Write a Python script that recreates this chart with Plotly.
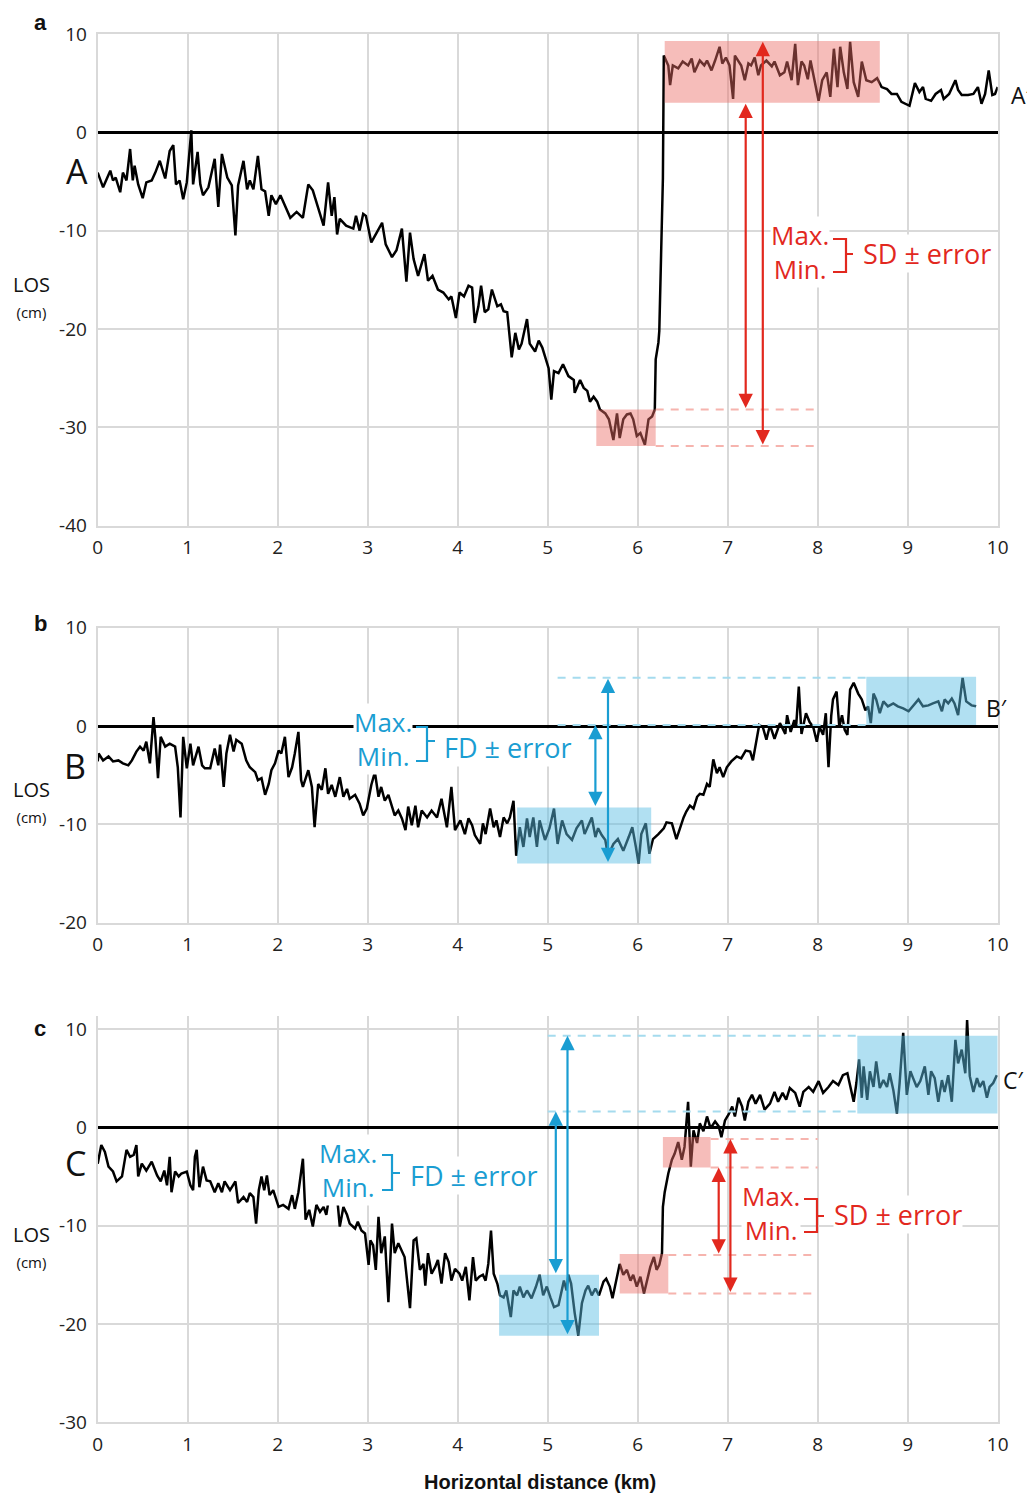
import plotly.graph_objects as go

# ---------------- data ----------------
a_x = [0.00,0.06,0.14,0.17,0.20,0.25,0.28,0.32,0.36,0.39,0.41,0.45,0.50,0.54,0.60,0.64,0.69,0.75,0.80,0.84,
       0.87,0.91,0.95,0.99,1.04,1.06,1.11,1.14,1.17,1.23,1.30,1.34,1.38,1.44,1.49,1.53,1.56,1.62,1.66,1.69,
       1.73,1.78,1.82,1.86,1.90,1.93,1.98,2.03,2.14,2.21,2.28,2.34,2.39,2.45,2.51,2.56,2.60,2.63,2.66,2.69,
       2.76,2.84,2.87,2.91,2.95,2.98,3.04,3.10,3.16,3.20,3.27,3.32,3.38,3.43,3.47,3.51,3.56,3.63,3.67,3.72,
       3.78,3.84,3.90,3.93,3.98,4.02,4.07,4.12,4.16,4.19,4.23,4.26,4.30,4.34,4.38,4.44,4.48,4.51,4.55,4.60,
       4.64,4.68,4.71,4.77,4.80,4.86,4.90,4.94,5.01,5.04,5.07,5.12,5.17,5.23,5.29,5.30,5.36,5.40,5.44,5.47,
       5.51,5.55,5.58,5.64,5.68,5.73,5.77,5.80,5.84,5.88,5.92,5.95,5.99,6.03,6.08,6.12,6.16,6.19,6.20,6.23,
       6.24,6.28,6.29,6.34,6.36,6.39,6.45,6.50,6.56,6.60,6.63,6.69,6.74,6.77,6.82,6.86,6.91,6.94,6.98,7.02,
       7.06,7.08,7.12,7.15,7.19,7.23,7.26,7.30,7.34,7.37,7.43,7.49,7.52,7.58,7.63,7.66,7.71,7.75,7.78,7.82,
       7.85,7.89,7.92,7.96,8.01,8.05,8.10,8.14,8.18,8.22,8.25,8.29,8.33,8.36,8.40,8.45,8.49,8.54,8.60,8.66,
       8.71,8.77,8.82,8.88,8.93,9.02,9.08,9.13,9.17,9.20,9.26,9.31,9.37,9.40,9.46,9.53,9.56,9.60,9.67,9.73,
       9.78,9.82,9.86,9.90,9.94,9.97,10.00]
a_y = [-4.1,-5.6,-3.9,-4.9,-4.6,-6.1,-4.1,-4.9,-1.7,-4.9,-3.4,-5.3,-6.7,-5.1,-4.9,-4.1,-2.9,-4.7,-1.9,-1.3,
       -5.3,-4.9,-6.8,-5.1,0.2,-5.3,-2.0,-5.3,-6.4,-5.6,-2.7,-7.6,-2.2,-4.6,-5.4,-10.5,-5.4,-2.9,-5.8,-4.9,
       -5.8,-2.4,-5.8,-6.0,-8.5,-6.4,-7.3,-6.4,-8.7,-8.1,-8.7,-5.3,-5.9,-7.8,-9.5,-5.1,-8.5,-6.6,-10.4,-8.8,
       -9.5,-9.8,-8.5,-10.0,-8.3,-8.5,-11.2,-10.2,-9.2,-11.4,-12.7,-12.0,-9.8,-15.2,-10.2,-12.9,-14.6,-12.4,-15.1,-14.6,
       -16.0,-16.3,-17.0,-16.7,-18.9,-16.3,-16.7,-15.6,-15.8,-19.4,-17.7,-15.6,-18.3,-18.0,-16.0,-17.7,-17.5,-18.2,-18.3,-22.9,
       -20.4,-22.1,-21.5,-19.0,-21.5,-22.3,-21.2,-21.9,-24.0,-27.2,-24.3,-24.5,-23.6,-24.8,-25.2,-26.5,-25.2,-26.0,-26.3,-27.4,
       -26.9,-27.4,-28.2,-28.6,-29.2,-31.3,-28.6,-31.1,-29.2,-28.7,-28.6,-29.2,-30.9,-30.6,-31.8,-29.2,-28.9,-28.2,-23.1,-21.4,
       -20.2,-4.7,7.8,6.8,4.8,6.8,6.5,7.2,6.8,7.5,6.1,7.3,6.8,7.3,6.3,7.3,8.7,7.0,7.6,6.8,
       3.4,7.8,7.3,6.8,5.3,7.0,6.8,7.6,5.8,6.8,7.3,6.7,7.2,5.8,6.1,7.2,5.3,9.0,4.8,7.2,
       6.8,5.4,7.3,5.5,3.2,5.3,6.1,3.6,8.5,4.6,8.7,6.1,4.4,9.2,5.1,3.6,7.2,5.3,5.1,5.5,
       4.6,4.4,3.9,3.9,3.1,2.7,5.0,4.1,4.6,3.4,3.2,3.9,4.3,3.4,3.9,5.3,4.3,3.8,3.8,3.9,
       4.6,2.9,3.9,6.3,3.8,3.9,4.6]

b_x = [0.00,0.01,0.06,0.12,0.17,0.23,0.28,0.34,0.38,0.43,0.47,0.51,0.54,0.58,0.62,0.64,0.67,0.70,0.75,0.80,
       0.86,0.89,0.92,0.95,0.99,1.03,1.06,1.12,1.16,1.19,1.25,1.30,1.34,1.36,1.40,1.43,1.47,1.51,1.54,1.60,
       1.65,1.69,1.75,1.78,1.82,1.86,1.90,1.93,1.97,2.01,2.04,2.08,2.12,2.16,2.19,2.23,2.26,2.28,2.34,2.38,
       2.41,2.45,2.49,2.53,2.56,2.60,2.64,2.69,2.73,2.77,2.80,2.86,2.91,2.95,2.99,3.04,3.08,3.12,3.15,3.19,
       3.23,3.27,3.30,3.34,3.38,3.42,3.45,3.49,3.53,3.56,3.60,3.66,3.71,3.77,3.82,3.88,3.93,3.97,4.03,4.08,
       4.12,4.16,4.19,4.25,4.28,4.31,4.36,4.40,4.43,4.47,4.51,4.55,4.58,4.62,4.65,4.69,4.73,4.77,4.80,4.84,
       4.88,4.91,4.97,5.02,5.07,5.11,5.16,5.21,5.27,5.32,5.38,5.41,5.45,5.49,5.53,5.56,5.60,5.64,5.67,5.73,
       5.78,5.84,5.90,5.94,5.98,6.01,6.04,6.09,6.13,6.17,6.23,6.29,6.32,6.38,6.43,6.47,6.51,6.54,6.58,6.62,
       6.66,6.69,6.73,6.77,6.80,6.84,6.88,6.91,6.95,6.99,7.04,7.10,7.15,7.20,7.25,7.28,7.32,7.35,7.39,7.43,
       7.47,7.52,7.58,7.64,7.66,7.70,7.74,7.76,7.79,7.82,7.87,7.91,7.95,7.99,8.02,8.06,8.09,8.12,8.15,8.17,
       8.21,8.24,8.27,8.30,8.33,8.36,8.40,8.45,8.49,8.53,8.56,8.59,8.62,8.65,8.69,8.73,8.78,8.84,8.89,8.95,
       9.01,9.06,9.12,9.17,9.23,9.28,9.34,9.38,9.41,9.45,9.49,9.52,9.56,9.61,9.65,9.71,9.76]
b_y = [-3.6,-2.8,-3.5,-3.1,-3.6,-3.5,-3.8,-4.0,-3.5,-2.6,-2.1,-2.5,-1.6,-3.8,0.9,-1.1,-5.3,-1.1,-2.1,-1.8,
       -2.1,-4.2,-9.3,-1.1,-4.3,-1.8,-4.0,-2.1,-4.0,-4.3,-4.3,-2.3,-4.0,-1.9,-6.2,-2.8,-0.9,-2.6,-1.4,-1.8,
       -3.5,-4.2,-4.7,-5.5,-5.3,-7.0,-5.9,-4.5,-3.8,-2.5,-2.8,-1.1,-5.2,-4.2,-2.8,-0.6,-5.5,-6.2,-4.5,-6.2,
       -10.3,-5.9,-6.5,-4.3,-6.9,-6.0,-7.2,-5.2,-7.2,-6.4,-7.4,-7.0,-7.9,-9.1,-8.4,-6.0,-4.7,-7.2,-6.2,-7.6,
       -7.0,-8.1,-9.1,-8.6,-9.4,-10.6,-8.2,-10.1,-8.1,-10.3,-8.6,-9.3,-8.6,-9.3,-7.4,-10.3,-6.2,-10.6,-9.6,-11.0,
       -9.4,-10.1,-11.1,-12.0,-9.9,-11.0,-8.4,-10.3,-9.6,-11.3,-9.3,-9.9,-9.3,-7.6,-13.2,-10.3,-12.3,-9.4,-11.3,-9.3,
       -12.3,-9.6,-11.6,-10.4,-8.4,-12.0,-9.6,-11.0,-11.6,-10.4,-9.6,-11.0,-10.1,-9.3,-11.3,-10.4,-11.1,-11.6,-13.2,-12.0,
       -11.5,-12.7,-11.3,-10.3,-12.3,-14.0,-11.0,-9.9,-13.0,-11.5,-11.0,-10.4,-9.8,-9.9,-11.5,-10.3,-9.3,-8.7,-8.1,-8.4,
       -7.2,-6.9,-7.0,-5.9,-6.2,-3.4,-4.8,-4.2,-5.2,-4.2,-3.6,-3.1,-3.3,-2.5,-2.6,-3.5,-1.4,0.1,-0.1,-1.4,
       0.1,-1.3,0.3,-0.8,1.1,-0.6,0.6,-0.1,4.0,-0.8,1.3,0.4,-0.1,-1.6,-0.1,-0.9,1.3,-4.2,1.0,2.7,
       3.5,-0.1,1.1,-0.4,-0.9,3.7,4.4,3.3,2.7,1.6,2.0,0.3,3.3,2.7,1.3,2.5,2.0,2.3,2.0,1.8,
       1.5,2.0,2.7,2.0,2.1,2.3,2.5,1.5,2.7,2.3,2.8,2.3,1.1,4.9,2.5,2.1,2.0]

c_x = [0.00,0.04,0.08,0.12,0.17,0.21,0.27,0.32,0.36,0.40,0.43,0.45,0.49,0.54,0.60,0.66,0.70,0.74,0.77,0.80,
       0.82,0.86,0.90,0.93,0.99,1.03,1.06,1.08,1.10,1.13,1.17,1.21,1.25,1.30,1.34,1.38,1.41,1.47,1.53,1.56,
       1.62,1.66,1.69,1.73,1.76,1.79,1.82,1.85,1.88,1.91,1.95,2.01,2.06,2.12,2.16,2.19,2.23,2.28,2.31,2.35,
       2.39,2.43,2.47,2.51,2.54,2.57,2.62,2.66,2.69,2.73,2.77,2.80,2.86,2.89,2.93,2.97,3.01,3.03,3.06,3.09,
       3.12,3.15,3.19,3.23,3.27,3.30,3.34,3.38,3.41,3.47,3.51,3.54,3.58,3.62,3.64,3.67,3.71,3.75,3.78,3.82,
       3.86,3.90,3.93,3.97,4.02,4.05,4.09,4.13,4.17,4.20,4.24,4.28,4.31,4.34,4.37,4.40,4.44,4.47,4.51,4.54,
       4.59,4.62,4.66,4.69,4.73,4.77,4.82,4.87,4.91,4.95,4.99,5.03,5.07,5.12,5.15,5.18,5.21,5.23,5.26,5.30,
       5.34,5.38,5.42,5.45,5.49,5.53,5.57,5.62,5.65,5.69,5.72,5.76,5.80,5.84,5.88,5.92,5.95,5.99,6.03,6.07,
       6.11,6.14,6.18,6.21,6.24,6.27,6.28,6.30,6.34,6.38,6.41,6.45,6.49,6.52,6.56,6.59,6.62,6.66,6.69,6.73,
       6.77,6.81,6.86,6.90,6.93,6.97,7.01,7.05,7.08,7.12,7.16,7.19,7.23,7.27,7.31,7.36,7.41,7.47,7.52,7.56,
       7.61,7.65,7.69,7.75,7.80,7.84,7.90,7.95,8.01,8.06,8.12,8.17,8.23,8.28,8.33,8.36,8.40,8.43,8.46,8.49,
       8.51,8.55,8.58,8.62,8.65,8.69,8.73,8.77,8.80,8.84,8.88,8.91,8.95,8.99,9.03,9.06,9.10,9.14,9.19,9.23,
       9.26,9.30,9.34,9.38,9.41,9.45,9.49,9.53,9.56,9.60,9.64,9.66,9.69,9.73,9.77,9.80,9.84,9.88,9.91,9.95,
       9.99]
c_y = [-3.7,-1.8,-2.5,-4.0,-4.5,-5.5,-5.0,-2.3,-3.0,-2.8,-1.8,-5.0,-3.7,-4.4,-3.5,-4.9,-5.5,-4.4,-5.9,-3.0,
       -6.6,-4.5,-5.0,-4.7,-4.5,-5.9,-6.4,-3.0,-2.3,-6.1,-4.0,-5.4,-5.5,-6.6,-5.7,-6.6,-5.5,-6.4,-5.5,-7.7,
       -7.1,-7.6,-6.7,-7.1,-9.8,-6.4,-5.0,-6.4,-4.9,-6.9,-6.4,-8.1,-7.9,-8.3,-6.9,-8.3,-6.6,-3.2,-9.4,-8.4,
       -10.1,-7.9,-8.6,-8.1,-8.9,-7.2,-7.7,-7.1,-10.1,-8.1,-8.9,-9.8,-10.3,-9.6,-10.5,-10.8,-14.0,-11.5,-12.0,-14.5,
       -9.1,-12.8,-11.1,-17.8,-9.8,-12.8,-11.8,-12.7,-13.2,-18.4,-11.5,-11.3,-14.5,-13.9,-16.1,-12.8,-14.9,-14.2,-13.5,-15.9,
       -12.8,-13.7,-15.6,-14.4,-14.9,-15.6,-14.2,-17.6,-13.2,-15.6,-15.2,-15.0,-15.6,-13.9,-10.5,-14.9,-15.9,-17.1,-17.3,-16.6,
       -19.3,-16.6,-17.1,-16.2,-17.3,-16.6,-17.4,-16.2,-15.0,-17.1,-16.2,-17.3,-18.3,-18.1,-16.7,-15.6,-16.6,-15.0,-15.9,-18.9,
       -21.2,-17.9,-16.6,-16.1,-17.1,-16.4,-17.1,-15.7,-15.4,-16.2,-17.4,-15.6,-13.9,-15.0,-14.5,-15.6,-15.0,-16.2,-15.2,-16.9,
       -15.2,-14.2,-13.2,-14.5,-14.0,-12.8,-8.1,-6.6,-4.7,-3.3,-2.7,-1.5,-3.3,-2.0,2.6,-4.0,-0.3,-1.6,0.4,-0.4,
       1.1,-0.1,0.6,0.1,-1.0,0.7,1.3,2.1,1.1,3.0,2.1,0.7,2.6,3.3,2.4,3.3,1.8,2.4,3.6,2.6,
       3.5,2.8,4.0,3.5,2.1,3.6,4.1,3.6,4.7,3.5,4.1,4.7,4.3,5.3,5.5,4.3,2.6,4.5,6.9,3.0,
       6.2,2.8,5.7,4.1,6.7,4.0,4.8,4.1,5.5,3.8,1.4,4.5,9.6,3.3,5.7,5.0,4.1,4.7,6.2,3.3,
       5.7,5.0,2.6,4.8,3.6,5.3,2.6,8.9,6.5,7.9,5.5,10.9,5.2,3.6,5.0,4.1,4.7,3.0,4.1,4.5,
       5.3]

# boxes: (x0, x1, y0, y1) in km / cm
a_sd_boxes = [(6.30, 8.69, 3.0, 9.3), (5.54, 6.20, -31.9, -28.2)]
b_fd_boxes = [(4.66, 6.15, -14.0, -8.3), (8.54, 9.76, 0.1, 5.0)]
c_fd_boxes = [(4.46, 5.57, -21.2, -15.0), (8.44, 10.0, 1.4, 9.3)]
c_sd_boxes = [(5.80, 6.34, -16.9, -12.9), (6.28, 6.81, -4.1, -1.0)]
# dashed guide lines: (x0, x1, y)
a_sd_guides = [(6.20, 8.0, -28.2), (6.20, 8.0, -31.9)]
b_fd_guides = [(5.11, 8.54, 4.9), (5.11, 8.54, 0.1)]
c_fd_guides = [(5.00, 8.44, 9.3), (5.00, 8.44, 1.6)]
c_sd_guides = [(6.81, 8.0, -1.2), (6.81, 8.0, -4.1), (6.34, 8.0, -13.0), (6.34, 8.0, -16.9)]
# double arrows: (x, y_top, y_bottom)
a_sd_arrows = [(7.20, 2.9, -28.2), (7.39, 9.2, -31.9)]
b_fd_arrows = [(5.53, 0.1, -8.3), (5.67, 4.8, -14.0)]
c_fd_arrows = [(5.09, 1.6, -15.0), (5.22, 9.3, -21.2)]
c_sd_arrows = [(6.90, -4.1, -13.0), (7.03, -1.2, -16.9)]

x_ticks = list(range(0, 11))
x_tick_text = [str(v) for v in x_ticks]
y_ticks_a = [-40, -30, -20, -10, 0, 10]
y_ticks_b = [-20, -10, 0, 10]
y_ticks_c = [-30, -20, -10, 0, 10]

# ---------------- layout helpers ----------------
# the page body adds an 8px margin, so positions are given in window pixels and shifted back
W, H = 1035, 1494
OFF = 8
def PX(p): return (p - OFF) / W
def PY(p): return 1 - (p - OFF) / H

RED = "#e2281e"
BLUE = "#1a9dd2"
RED_FILL = "rgba(236,108,102,0.45)"
BLUE_FILL = "rgba(92,190,228,0.48)"
RED_DASH = "#f6b4ae"
BLUE_DASH = "#a5dbee"
GRID = "#d9d9d9"
FONT = "Open Sans"

fig = go.Figure()
for i, (xs, ys) in enumerate([(a_x, a_y), (b_x, b_y), (c_x, c_y)]):
    sfx = "" if i == 0 else str(i + 1)
    fig.add_trace(go.Scatter(x=xs, y=ys, mode="lines", line=dict(color="black", width=2.5),
                             xaxis="x" + sfx, yaxis="y" + sfx, showlegend=False, hoverinfo="skip"))

xdom = [PX(97.7), PX(997.7)]
ydoms = [[PY(525.5), PY(34)], [PY(922.6), PY(627.7)], [PY(1422.2), PY(1016.2)]]
yranges = [[-40, 10], [-20, 10], [-30, 11.3]]
yticks = [y_ticks_a, y_ticks_b, y_ticks_c]

axis_common = dict(showgrid=True, gridcolor=GRID, gridwidth=2, showline=True, linecolor=GRID,
                   linewidth=2, ticks="", tickfont=dict(family=FONT, size=19, color="#222"),
                   fixedrange=True, automargin=False)
layout = dict(width=W, height=H, margin=dict(l=0, r=0, t=0, b=0, autoexpand=False),
              paper_bgcolor="white", plot_bgcolor="white", showlegend=False)
for i in range(3):
    sfx = "" if i == 0 else str(i + 1)
    layout["xaxis" + sfx] = dict(axis_common, domain=xdom, range=[0, 10], tickvals=x_ticks,
                                 ticktext=x_tick_text, zeroline=False, anchor="y" + sfx,
                                 ticklabelstandoff=4, mirror=(i < 2))
    layout["yaxis" + sfx] = dict(axis_common, domain=ydoms[i], range=yranges[i], tickvals=yticks[i],
                                 ticktext=[str(v) for v in yticks[i]],
                                 zeroline=True, zerolinecolor="black", zerolinewidth=3,
                                 anchor="x" + sfx, mirror=True, ticklabelstandoff=5)
fig.update_layout(**layout)

shapes = []
annos = []

def add_boxes(boxes, fill, sfx):
    for (x0, x1, y0, y1) in boxes:
        shapes.append(dict(type="rect", xref="x" + sfx, yref="y" + sfx, x0=x0, x1=x1, y0=y0, y1=y1,
                           fillcolor=fill, line=dict(width=0), layer="above"))

def add_guides(guides, color, sfx):
    for (x0, x1, y) in guides:
        shapes.append(dict(type="line", xref="x" + sfx, yref="y" + sfx, x0=x0, x1=x1, y0=y, y1=y,
                           line=dict(color=color, width=2, dash="8px,7px"), layer="above"))

def add_arrows(arrows, color, sfx):
    for (x, yt, yb) in arrows:
        annos.append(dict(x=x, y=yt, ax=x, ay=yb, xref="x" + sfx, yref="y" + sfx,
                          axref="x" + sfx, ayref="y" + sfx, text="", showarrow=True,
                          arrowhead=2, arrowside="end+start", arrowsize=1.3, arrowwidth=2.2,
                          arrowcolor=color, standoff=0, startstandoff=0))

add_boxes(a_sd_boxes, RED_FILL, "")
add_guides(a_sd_guides, RED_DASH, "")
add_arrows(a_sd_arrows, RED, "")
add_boxes(b_fd_boxes, BLUE_FILL, "2")
add_guides(b_fd_guides, BLUE_DASH, "2")
add_arrows(b_fd_arrows, BLUE, "2")
add_boxes(c_fd_boxes, BLUE_FILL, "3")
add_boxes(c_sd_boxes, RED_FILL, "3")
add_guides(c_fd_guides, BLUE_DASH, "3")
add_guides(c_sd_guides, RED_DASH, "3")
add_arrows(c_fd_arrows, BLUE, "3")
add_arrows(c_sd_arrows, RED, "3")

def txt(x, y, s, size, color="#111", family=FONT, bg=None, xanchor="center", bold=False, align="center"):
    d = dict(x=PX(x), y=PY(y), xref="paper", yref="paper", text=("<b>%s</b>" % s) if bold else s,
             showarrow=False, xanchor=xanchor, yanchor="middle", align=align,
             font=dict(family=family, size=size, color=color))
    if bg:
        d.update(bgcolor=bg, borderpad=0)
    annos.append(d)

def bracket(x0, x1, xm, ytop, ybot, ymid, color):
    path = "M %f,%f L %f,%f L %f,%f L %f,%f M %f,%f L %f,%f" % (
        PX(x0), PY(ytop), PX(x1), PY(ytop), PX(x1), PY(ybot), PX(x0), PY(ybot),
        PX(x1), PY(ymid), PX(xm), PY(ymid))
    shapes.append(dict(type="path", xref="paper", yref="paper", path=path,
                       line=dict(color=color, width=2.2), layer="above"))

# legend-like text groups (Max./Min. stacked in one block)
txt(800, 252, "Max.<br>Min.", 26, RED, bg="white")
bracket(833, 846, 853, 239, 272, 254, RED)
txt(927, 253, "SD ± error", 27, RED, bg="white")

txt(383, 739, "Max.<br>Min.", 26, BLUE, bg="white")
bracket(416, 427, 435, 727, 761, 741, BLUE)
txt(508, 748, "FD ± error", 27, BLUE, bg="white")

txt(348, 1170, "Max.<br>Min.", 26, BLUE, bg="white")
bracket(382, 392, 400, 1155, 1190, 1173, BLUE)
txt(474, 1175, "FD ± error", 27, BLUE, bg="white")

txt(771, 1213, "Max.<br>Min.", 26, RED, bg="white")
bracket(804, 817, 824, 1199, 1232, 1216, RED)
txt(898, 1214, "SD ± error", 27, RED, bg="white")

# profile end labels
txt(77, 171, "A", 34)
txt(1034, 95, "A′", 23, xanchor="right")
txt(75, 766, "B", 34)
txt(984, 708, "B′", 23, xanchor="left")
txt(75, 1163, "C", 34)
txt(1001, 1080, "C′", 23, xanchor="left")

# axis labels
for ly in [297, 802, 1246]:
    txt(31, ly, "LOS<br><span style='font-size:15px'>(cm)</span>", 20)
for (lx, ly, s) in [(40, 22, "a"), (40, 623, "b"), (40, 1028, "c")]:
    txt(lx, ly, s, 22, family="Liberation Sans", bold=True)
txt(540, 1482, "Horizontal distance (km)", 20, family="Liberation Sans", bold=True)

fig.update_layout(shapes=shapes, annotations=annos)
fig.write_html("out.html")
